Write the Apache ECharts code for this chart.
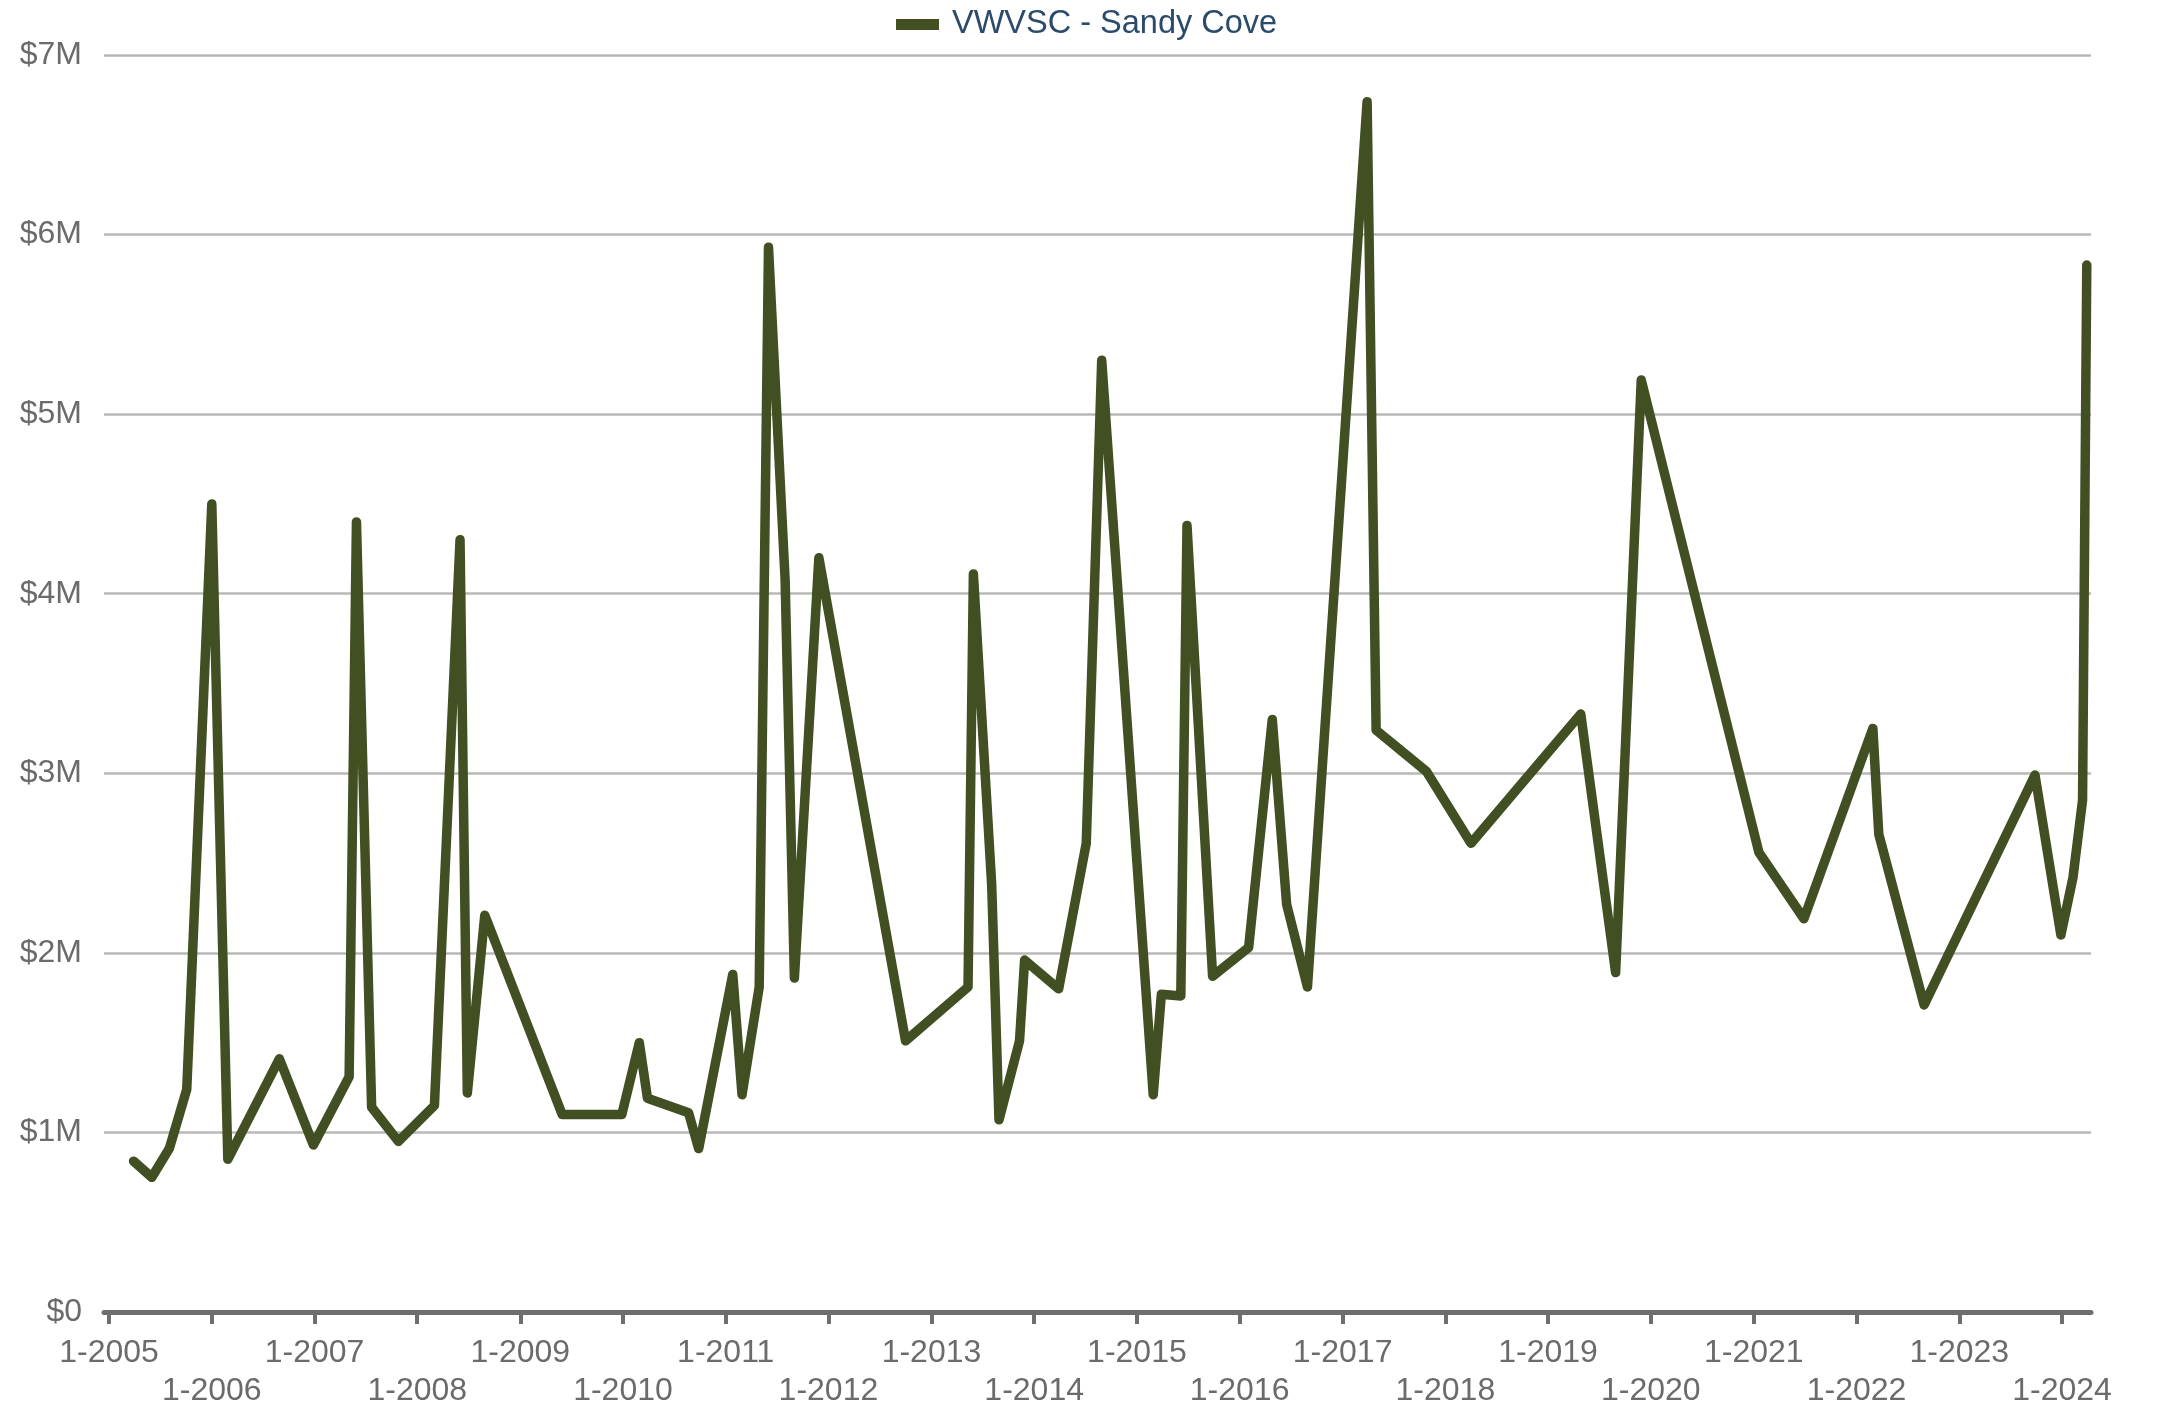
<!DOCTYPE html>
<html>
<head>
<meta charset="utf-8">
<title>VWVSC - Sandy Cove</title>
<script src="https://cdn.jsdelivr.net/npm/echarts@6/dist/echarts.min.js"></script>
<style>
  html, body { margin: 0; padding: 0; background: #fff; }
  #chart { width: 2157px; height: 1410px; }
</style>
</head>
<body>
<div id="chart"></div>
<script>
const seriesName = 'VWVSC - Sandy Cove'

// sale dates
const dates = [
  '2005-03-29', '2005-06-02', '2005-08-03', '2005-10-04', '2006-01-01', '2006-02-27',
  '2006-08-29', '2006-12-28', '2007-05-04', '2007-05-30', '2007-07-23', '2007-10-26',
  '2008-03-02', '2008-06-01', '2008-06-27', '2008-08-28', '2009-05-30', '2009-12-28',
  '2010-02-28', '2010-03-29', '2010-08-22', '2010-09-27', '2011-01-26', '2011-02-28',
  '2011-04-30', '2011-06-02', '2011-07-31', '2011-09-02', '2011-11-28', '2012-10-01',
  '2013-05-11', '2013-05-30', '2013-08-03', '2013-08-29', '2013-11-10', '2013-11-28',
  '2014-03-29', '2014-07-05', '2014-08-29', '2015-02-28', '2015-03-29', '2015-06-06',
  '2015-06-28', '2015-09-27', '2016-02-02', '2016-04-26', '2016-06-16', '2016-08-29',
  '2017-03-29', '2017-04-30', '2017-10-26', '2018-04-02', '2019-04-27', '2019-08-29',
  '2019-11-28', '2021-01-19', '2021-06-28', '2022-02-28', '2022-03-21', '2022-08-29',
  '2023-09-27', '2023-12-28', '2024-02-09', '2024-03-14', '2024-03-29'
]

// values in dollars
const values = [
  840000, 750000, 910000, 1240000, 4500000, 850000,
  1410000, 930000, 1310000, 4400000, 1140000, 950000,
  1150000, 4300000, 1220000, 2210000, 1100000, 1100000,
  1500000, 1190000, 1110000, 910000, 1880000, 1210000,
  1810000, 5930000, 4080000, 1860000, 4200000, 1510000,
  1810000, 4110000, 2380000, 1070000, 1510000, 1960000,
  1800000, 2610000, 5300000, 1210000, 1770000, 1760000,
  4380000, 1870000, 2030000, 3300000, 2270000, 1810000,
  6740000, 3240000, 3010000, 2610000, 3330000, 1890000,
  5190000, 2560000, 2190000, 3250000, 2660000, 1710000,
  2990000, 2100000, 2420000, 2850000, 5830000
]

// yearly ticks "1-YYYY"
const tickYears = [2005, 2006, 2007, 2008, 2009, 2010, 2011, 2012, 2013, 2014,
  2015, 2016, 2017, 2018, 2019, 2020, 2021, 2022, 2023, 2024]

const font = "'Liberation Sans', Arial, sans-serif"
const toTime = s => {
  const p = s.split('-').map(Number)
  return new Date(p[0], p[1] - 1, p[2]).getTime()
}
const tickTimes = tickYears.map(y => new Date(y, 0, 1).getTime())

const chart = echarts.init(document.getElementById('chart'))

chart.setOption({
  animation: false,
  backgroundColor: '#ffffff',
  textStyle: { fontFamily: font },
  legend: {
    top: 3,
    left: 891,
    icon: 'rect',
    itemWidth: 43,
    itemHeight: 11,
    textStyle: { fontSize: 32.5, color: '#2c4a6a', fontFamily: font, padding: [0, 0, 0, 8] },
    data: [seriesName]
  },
  grid: { left: 104, right: 66, top: 55, bottom: 93, containLabel: false },
  xAxis: {
    type: 'value',
    min: new Date(2004, 11, 14).getTime(),
    max: new Date(2024, 3, 13).getTime(),
    axisLine: { show: true, lineStyle: { color: '#6e6e6e', width: 5 } },
    axisTick: {
      show: true,
      length: 12,
      lineStyle: { color: '#6e6e6e', width: 4 },
      customValues: tickTimes
    },
    axisLabel: {
      customValues: tickTimes,
      fontSize: 32,
      color: '#6b6b6b',
      fontFamily: font,
      margin: 22,
      lineHeight: 38,
      formatter: function (val) {
        const y = new Date(val).getFullYear()
        return (y % 2 === 0 ? '\n' : '') + '1-' + y
      }
    },
    splitLine: { show: false }
  },
  yAxis: {
    type: 'value',
    min: 0,
    max: 7000000,
    interval: 1000000,
    axisLine: { show: false },
    axisTick: { show: false },
    axisLabel: {
      fontSize: 32,
      color: '#6b6b6b',
      fontFamily: font,
      margin: 22,
      formatter: v => v === 0 ? '$0' : '$' + (v / 1000000) + 'M'
    },
    splitLine: { show: true, lineStyle: { color: '#b8b8b8', width: 2.5 } }
  },
  series: [{
    name: seriesName,
    type: 'line',
    data: dates.map((d, i) => [toTime(d), values[i]]),
    showSymbol: false,
    symbol: 'none',
    color: '#414f22',
    lineStyle: { color: '#414f22', width: 9.5, cap: 'round', join: 'round' }
  }]
})

window.addEventListener('resize', () => {
  chart.resize()
})
</script>
</body>
</html>
